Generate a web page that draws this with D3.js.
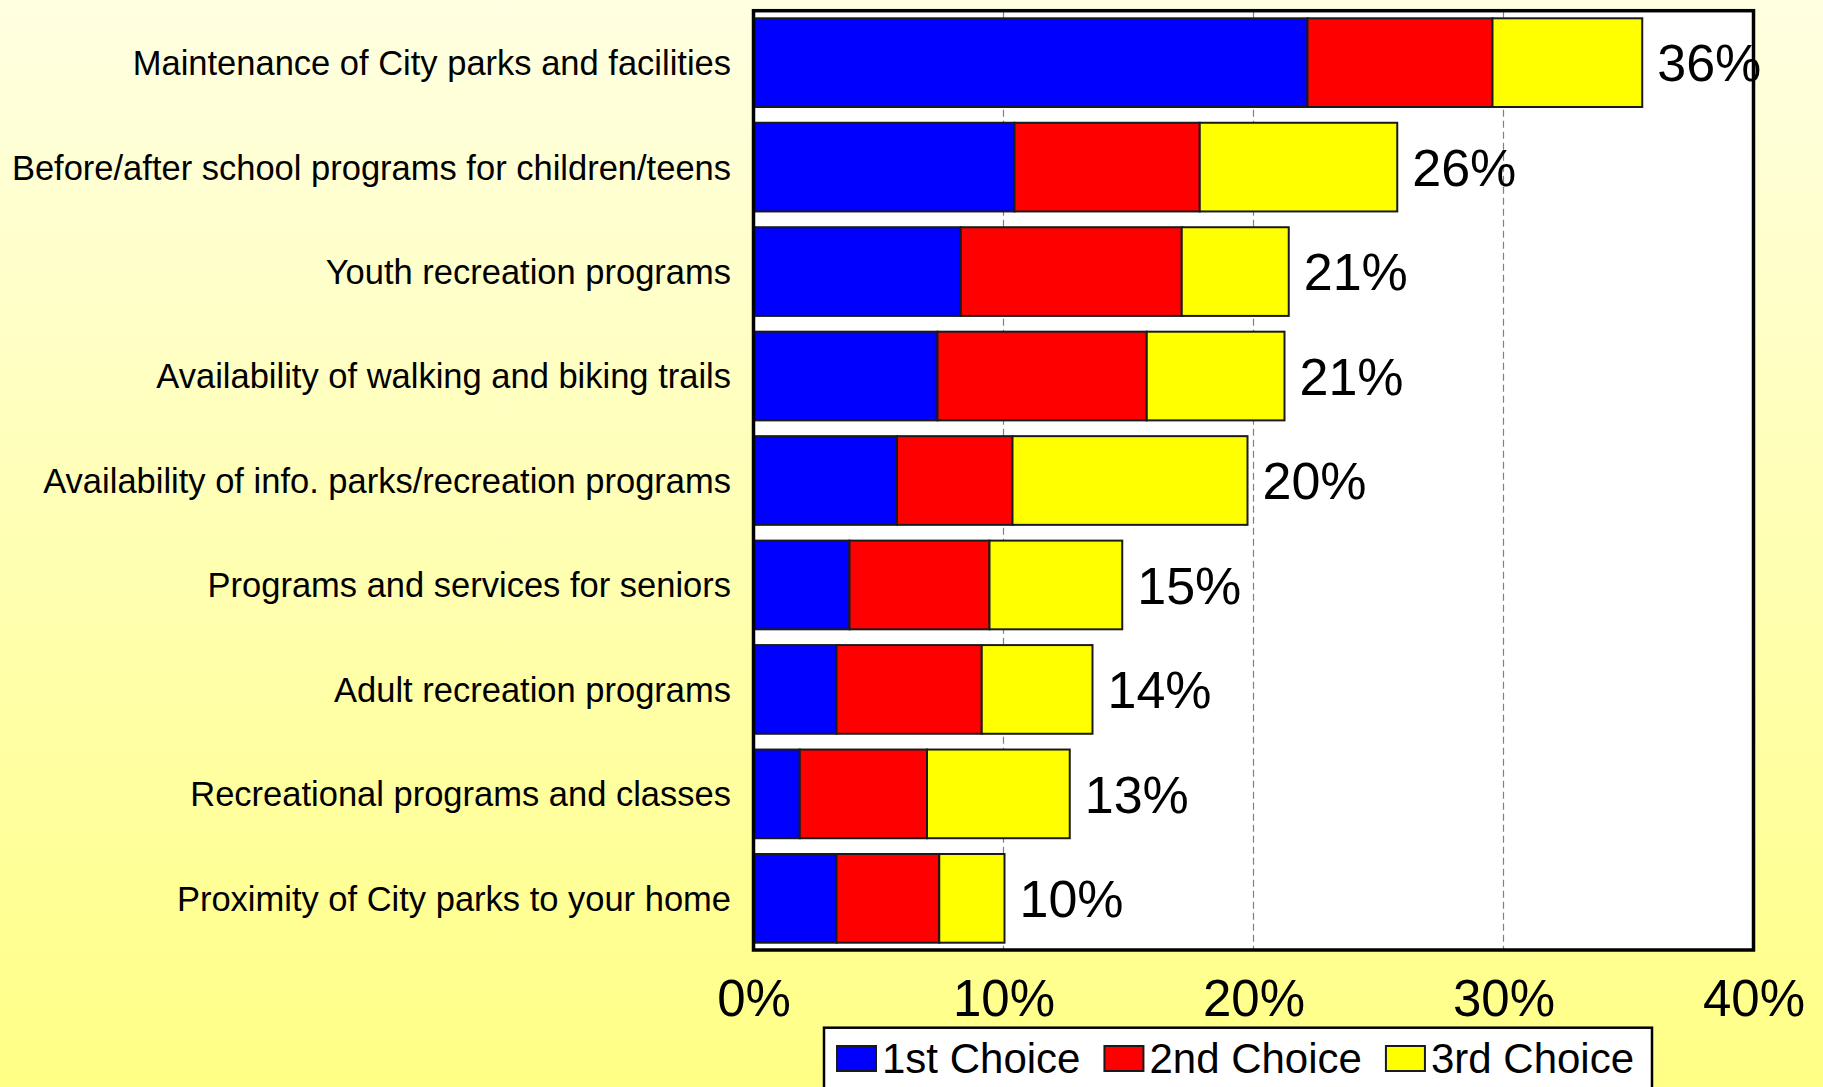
<!DOCTYPE html>
<html>
<head>
<meta charset="utf-8">
<style>
  html, body { margin: 0; padding: 0; }
  svg { display: block; font-family: "Liberation Sans", Arial, sans-serif; }
  .axis .domain { display: none; }
</style>
</head>
<body>
<svg width="1823" height="1087"></svg>
<script src="https://d3js.org/d3.v7.min.js"></script>
<script>

// categories, top to bottom
var categories = [
  "Maintenance of City parks and facilities",
  "Before/after school programs for children/teens",
  "Youth recreation programs",
  "Availability of walking and biking trails",
  "Availability of info. parks/recreation programs",
  "Programs and services for seniors",
  "Adult recreation programs",
  "Recreational programs and classes",
  "Proximity of City parks to your home"
];

// percent of respondents
var firstChoice  = [22.16, 10.44, 8.29, 7.36, 5.74, 3.84, 3.32, 1.85, 3.32];
var secondChoice = [ 7.40,  7.41, 8.84, 8.37, 4.62, 5.60, 5.81, 5.09, 4.11];
var thirdChoice  = [ 5.99,  7.90, 4.28, 5.51, 9.40, 5.31, 4.43, 5.71, 2.61];

var totalLabels = ["36%", "26%", "21%", "21%", "20%", "15%", "14%", "13%", "10%"];

var seriesNames = ["1st Choice", "2nd Choice", "3rd Choice"];
var seriesColors = ["#0000ff", "#ff0000", "#ffff00"];

var xTicks = [0, 10, 20, 30, 40];

var svg = d3.select("svg"),
    W = +svg.attr("width"),
    H = +svg.attr("height");

// background gradient
var defs = svg.append("defs");
var grad = defs.append("linearGradient")
    .attr("id", "bg")
    .attr("x1", 0).attr("y1", 0).attr("x2", 0).attr("y2", 1);
grad.append("stop").attr("offset", "0%").attr("stop-color", "#ffffe2");
grad.append("stop").attr("offset", "100%").attr("stop-color", "#ffff86");
svg.append("rect").attr("width", W).attr("height", H).attr("fill", "url(#bg)");

var plot = {left: 753.5, right: 1753.5, top: 10.7, bottom: 950};

var x = d3.scaleLinear()
    .domain([0, 40])
    .range([plot.left, plot.right]);

var y = d3.scaleBand()
    .domain(categories)
    .range([18.3, 942.7])
    .paddingInner(0.151)
    .paddingOuter(0);

// plot area
svg.append("rect")
    .attr("x", plot.left)
    .attr("y", plot.top)
    .attr("width", plot.right - plot.left)
    .attr("height", plot.bottom - plot.top)
    .attr("fill", "#fff");

// dashed grid lines
svg.append("g")
  .selectAll("line")
  .data(xTicks.slice(1, -1))
  .enter().append("line")
    .attr("x1", function(d) { return x(d); })
    .attr("x2", function(d) { return x(d); })
    .attr("y1", plot.top)
    .attr("y2", plot.bottom)
    .attr("stroke", "#808080")
    .attr("stroke-width", 1.2)
    .attr("stroke-dasharray", "7,4");

// stacked bars
var rows = categories.map(function(c, i) {
  return {cat: c, "1st Choice": firstChoice[i], "2nd Choice": secondChoice[i], "3rd Choice": thirdChoice[i]};
});
var stacked = d3.stack().keys(seriesNames)(rows);

var layers = svg.append("g")
  .selectAll("g")
  .data(stacked)
  .enter().append("g")
    .attr("fill", function(d, i) { return seriesColors[i]; });

layers.selectAll("rect")
  .data(function(d) { return d; })
  .enter().append("rect")
    .attr("x", function(d) { return x(d[0]); })
    .attr("y", function(d) { return y(d.data.cat); })
    .attr("width", function(d) { return x(d[1]) - x(d[0]); })
    .attr("height", y.bandwidth())
    .attr("stroke", "#1a1a1a")
    .attr("stroke-width", 2);

// total labels
svg.append("g")
  .selectAll("text")
  .data(rows)
  .enter().append("text")
    .attr("x", function(d, i) { return x(firstChoice[i] + secondChoice[i] + thirdChoice[i]) + 15; })
    .attr("y", function(d) { return y(d.cat) + y.bandwidth() / 2; })
    .attr("dy", "0.36em")
    .attr("font-size", "52px")
    .attr("fill", "#000")
    .text(function(d, i) { return totalLabels[i]; });

// frame
svg.append("rect")
    .attr("x", plot.left)
    .attr("y", plot.top)
    .attr("width", plot.right - plot.left)
    .attr("height", plot.bottom - plot.top)
    .attr("fill", "none")
    .attr("stroke", "#000")
    .attr("stroke-width", 3.5);

// category labels
svg.append("g")
  .selectAll("text")
  .data(categories)
  .enter().append("text")
    .attr("x", 731)
    .attr("y", function(d) { return y(d) + y.bandwidth() / 2; })
    .attr("dy", "0.36em")
    .attr("text-anchor", "end")
    .attr("font-size", "34.5px")
    .attr("fill", "#000")
    .text(function(d) { return d; });

// x axis labels
var xAxis = svg.append("g")
    .attr("class", "axis")
    .attr("transform", "translate(0," + plot.bottom + ")")
    .call(d3.axisBottom(x).tickValues(xTicks).tickSize(0).tickPadding(30)
      .tickFormat(function(d) { return d + "%"; }));
xAxis.selectAll("text")
    .attr("font-size", "51px")
    .attr("font-family", "\"Liberation Sans\", Arial, sans-serif")
    .attr("fill", "#000");

// legend
var legend = svg.append("g");
legend.append("rect")
    .attr("x", 824)
    .attr("y", 1027.7)
    .attr("width", 828)
    .attr("height", 80)
    .attr("fill", "#fff")
    .attr("stroke", "#000")
    .attr("stroke-width", 2.5);

var lx = 837;
seriesNames.forEach(function(name, i) {
  legend.append("rect")
      .attr("x", lx)
      .attr("y", 1046)
      .attr("width", 39)
      .attr("height", 25)
      .attr("fill", seriesColors[i])
      .attr("stroke", "#1a1a1a")
      .attr("stroke-width", 2);
  var t = legend.append("text")
      .attr("x", lx + 45)
      .attr("y", 1073)
      .attr("font-size", "42px")
      .attr("fill", "#000")
      .text(name);
  lx += 45 + t.node().getComputedTextLength() + 24;
});

</script>
</body>
</html>
